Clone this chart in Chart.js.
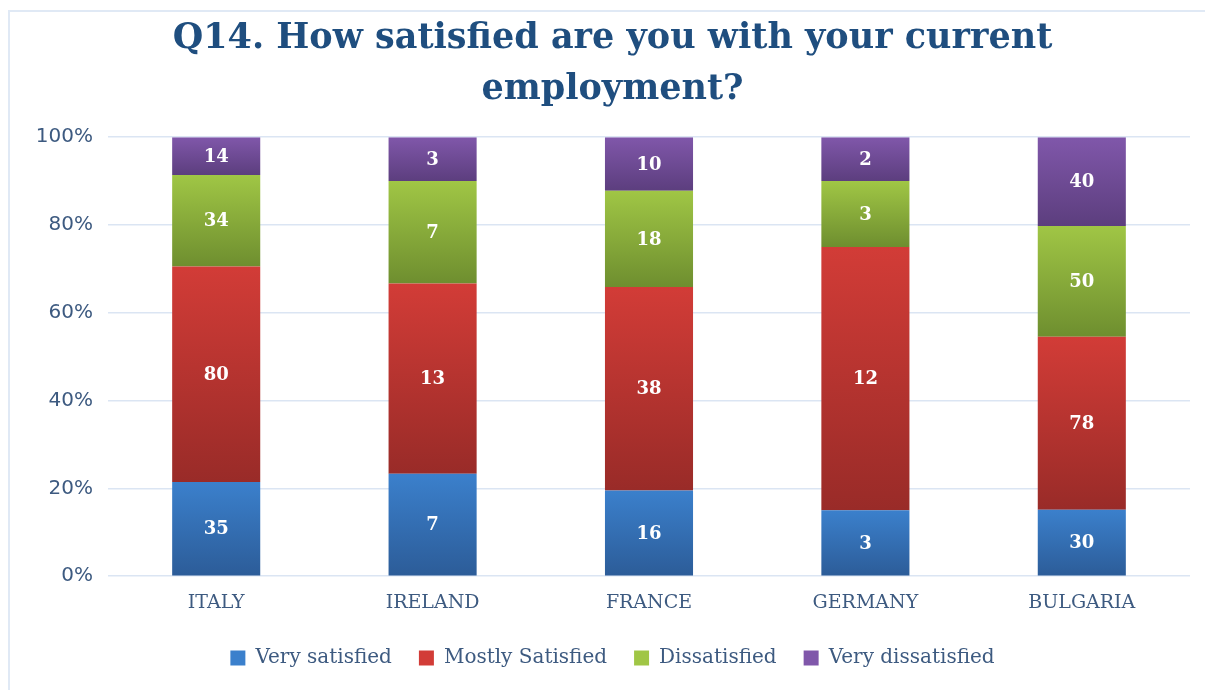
<!DOCTYPE html>
<html>
<head>
<meta charset="utf-8">
<script src="https://cdn.jsdelivr.net/npm/chart.js@4"></script>
<style>
  html, body { margin: 0; padding: 0; background: #fff; overflow: hidden; }
  #frame { position: absolute; left: 8px; top: 10px; width: 1400px; height: 900px;
           border-top: 2px solid #e0e9f5; border-left: 2px solid #e0e9f5; }
  #wrap { position: absolute; left: 0; top: 0; width: 1205px; height: 690px; }
</style>
</head>
<body>
<div id="frame"></div>
<div id="wrap"><canvas id="my-chart" width="1205" height="690"></canvas></div>
<script>
const countries = ["ITALY", "IRELAND", "FRANCE", "GERMANY", "BULGARIA"];
const seriesNames = ["Very satisfied", "Mostly Satisfied", "Dissatisfied", "Very dissatisfied"];
// answer counts per country
const verySatisfied = [35, 7, 16, 3, 30];
const mostlySatisfied = [80, 13, 38, 12, 78];
const dissatisfied = [34, 7, 18, 3, 50];
const veryDissatisfied = [14, 3, 10, 2, 40];
const yTicks = [0, 20, 40, 60, 80, 100];

const counts = [verySatisfied, mostlySatisfied, dissatisfied, veryDissatisfied];
const totals = countries.map((c, i) => counts.reduce((s, arr) => s + arr[i], 0));
const percents = counts.map(arr => arr.map((v, i) => v / totals[i] * 100));

// top / bottom colour of each segment gradient
const shades = [
  ["#3b80cc", "#2c5c98"],
  ["#d23c37", "#992b28"],
  ["#a0c645", "#6e8e2f"],
  ["#8057aa", "#5c3e7e"],
];

const gradientFill = (ds) => (c) => {
  const chart = c.chart;
  const y = chart.scales.y;
  if (!chart.chartArea || !y || c.dataIndex === undefined) return shades[ds][0];
  let start = 0;
  for (let k = 0; k < ds; k++) start += percents[k][c.dataIndex];
  const end = start + percents[ds][c.dataIndex];
  const top = y.getPixelForValue(end);
  const bottom = y.getPixelForValue(start);
  if (!isFinite(top) || !isFinite(bottom) || top === bottom) return shades[ds][0];
  const g = chart.ctx.createLinearGradient(0, top, 0, bottom);
  g.addColorStop(0, shades[ds][0]);
  g.addColorStop(1, shades[ds][1]);
  return g;
};

// writes the raw count in the middle of each segment
const countLabels = {
  id: "countLabels",
  afterDatasetsDraw(chart) {
    const ctx = chart.ctx;
    ctx.save();
    ctx.fillStyle = "#ffffff";
    ctx.font = "bold 18px 'DejaVu Serif', serif";
    ctx.textAlign = "center";
    ctx.textBaseline = "middle";
    chart.data.datasets.forEach((ds, di) => {
      chart.getDatasetMeta(di).data.forEach((bar, i) => {
        const mid = (bar.y + bar.base) / 2;
        ctx.fillText(String(counts[di][i]), bar.x, mid + 1);
      });
    });
    ctx.restore();
  }
};

const textColor = "#3d5a80";

new Chart(document.getElementById("my-chart").getContext("2d"), {
  type: "bar",
  data: {
    labels: countries,
    datasets: seriesNames.map((name, di) => ({
      label: name,
      data: percents[di],
      backgroundColor: gradientFill(di),
      borderWidth: 0,
      categoryPercentage: 1,
      barPercentage: 0.407,
    })),
  },
  options: {
    responsive: false,
    animation: false,
    layout: { padding: { top: 13, right: 0, bottom: 12, left: 20 } },
    plugins: {
      title: {
        display: true,
        text: ["Q14. How satisfied are you with your current", "employment?"],
        color: "#1f4e7f",
        font: { family: "'DejaVu Serif', serif", size: 35, weight: "bold", lineHeight: 1.46 },
        padding: { top: 0, bottom: 22 },
      },
      legend: {
        position: "bottom",
        labels: {
          color: textColor,
          font: { family: "'DejaVu Serif', serif", size: 20 },
          boxWidth: 15,
          boxHeight: 15,
          padding: 27,
          generateLabels: () => seriesNames.map((name, di) => ({
            text: name,
            fillStyle: shades[di][0],
            strokeStyle: shades[di][0],
            fontColor: textColor,
            lineWidth: 0,
            datasetIndex: di,
          })),
        },
      },
      tooltip: { enabled: false },
    },
    scales: {
      x: {
        stacked: true,
        grid: { display: false },
        border: { display: false },
        ticks: {
          color: textColor,
          font: { family: "'DejaVu Serif', serif", size: 19 },
          padding: 7,
        },
      },
      y: {
        stacked: true,
        min: 0,
        max: 100,
        afterFit: (scale) => { scale.width = 88; },
        afterBuildTicks: (scale) => { scale.ticks = yTicks.map(v => ({ value: v })); },
        grid: { color: "#dbe5f3", lineWidth: 1.5, drawTicks: false },
        border: { display: false },
        ticks: {
          color: textColor,
          font: { family: "'DejaVu Sans', sans-serif", size: 20 },
          padding: 15,
          callback: (v) => v + "%",
        },
      },
      // empty strip that keeps the plot off the right edge
      edge: {
        position: "right",
        min: 0,
        max: 1,
        grid: { display: false },
        border: { display: false },
        ticks: { display: false },
        afterFit: (scale) => { scale.width = 15; },
      },
    },
  },
  plugins: [countLabels],
});
</script>
</body>
</html>
